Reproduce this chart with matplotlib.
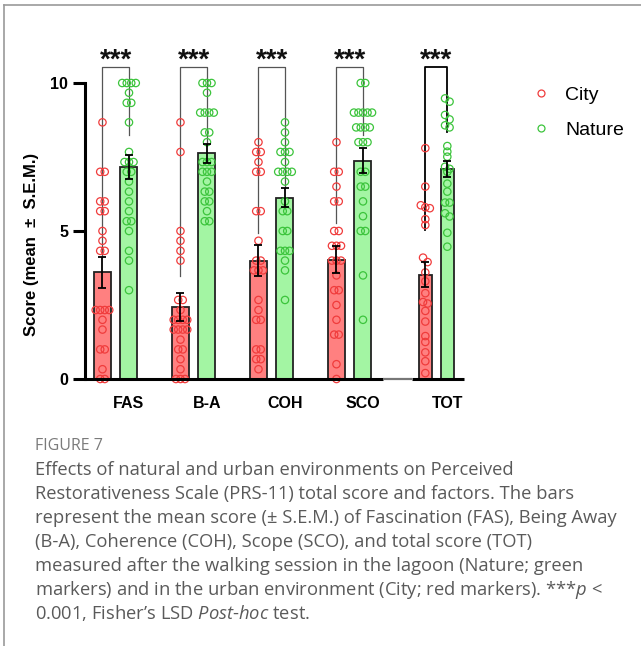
import numpy as np
import matplotlib
matplotlib.use('Agg')
import matplotlib.pyplot as plt
from matplotlib.lines import Line2D

categories = ['FAS', 'B-A', 'COH', 'SCO', 'TOT']
city_mean = [3.60, 2.44, 4.00, 4.03, 3.52]
city_sem = [0.52, 0.48, 0.53, 0.45, 0.42]
nature_mean = [7.15, 7.62, 6.12, 7.37, 7.08]
nature_sem = [0.41, 0.31, 0.32, 0.42, 0.27]

city_points = [
    [8.67, 7.0, 7.0, 6.0, 6.0, 5.67, 5.67, 5.0, 4.67, 4.33, 4.33, 2.33, 2.33, 2.33, 2.33,
     2.0, 1.67, 1.0, 1.0, 0.33, 0.0, 0.0],
    [8.67, 7.67, 5.0, 4.67, 4.33, 4.0, 2.67, 2.67, 2.33, 2.0, 2.0, 2.0, 2.0, 1.67, 1.67,
     1.67, 1.67, 1.33, 1.0, 1.0, 0.67, 0.33, 0.0, 0.0, 0.0],
    [8.0, 7.67, 7.67, 7.33, 7.0, 7.0, 5.67, 5.67, 4.67, 4.0, 4.0, 3.67, 3.67, 3.67, 2.67,
     2.33, 2.0, 2.0, 1.0, 1.0, 0.67, 0.67, 0.33],
    [8.0, 7.0, 7.0, 6.5, 6.0, 6.0, 5.0, 5.0, 4.5, 4.5, 4.5, 4.0, 4.0, 4.0, 3.5, 3.0, 3.0,
     2.5, 2.0, 1.5, 1.5, 0.5, 0.0],
    [7.8, 6.5, 5.87, 5.8, 5.77, 5.4, 5.2, 4.1, 3.95, 3.6, 3.3, 2.9, 2.6, 2.55, 2.3, 1.94,
     1.45, 1.25, 0.9, 0.6, 0.2],
]
nature_points = [
    [10.0, 10.0, 10.0, 10.0, 9.67, 9.33, 9.33, 8.67, 7.67, 7.33, 7.33, 7.33, 7.0, 7.0, 6.67,
     6.33, 6.0, 5.67, 5.33, 5.33, 5.0, 4.33, 4.0, 3.0],
    [10.0, 10.0, 10.0, 9.67, 9.0, 9.0, 9.0, 9.0, 8.33, 8.33, 8.0, 7.33, 7.33, 7.33, 7.0, 7.0,
     7.0, 6.67, 6.33, 6.33, 6.0, 6.0, 5.67, 5.33, 5.33],
    [8.67, 8.33, 8.0, 7.67, 7.67, 7.67, 7.33, 7.0, 7.0, 7.0, 7.0, 6.67, 6.0, 5.67, 5.67, 5.0,
     5.0, 4.33, 4.33, 4.33, 4.0, 3.67, 2.67],
    [10.0, 10.0, 9.0, 9.0, 9.0, 9.0, 9.0, 8.5, 8.5, 8.5, 8.5, 8.0, 8.0, 8.0, 7.0, 7.0, 6.5,
     6.5, 6.0, 5.5, 5.0, 5.0, 3.5, 2.0],
    [9.48, 9.37, 8.92, 8.77, 8.57, 8.5, 7.87, 7.68, 7.51, 7.17, 7.1, 7.0, 6.6, 6.33, 5.96,
     5.96, 5.6, 5.49, 4.94, 4.47],
]

# bracket legs (lower ends) and top
bracket_left = [4.12, 3.48, 4.93, 5.27, 5.03]
bracket_right = [8.24, 7.97, 6.49, 8.24, 8.34]
bracket_top = 10.54
stars = ['***'] * 5

plt.rcParams['font.family'] = ['Liberation Sans', 'DejaVu Sans']
plt.rcParams['mathtext.fontset'] = 'custom'
plt.rcParams['mathtext.rm'] = 'Open Sans'
plt.rcParams['mathtext.it'] = 'Open Sans:italic'

red_fill, red_edge = '#ff8080', '#f03c3c'
green_fill, green_edge = '#a3f5a3', '#3cc43c'


def swarm(vals, center, step=0.058, tol=0.16):
    vals = np.sort(np.asarray(vals, dtype=float))[::-1]
    xs = np.empty(len(vals))
    i = 0
    while i < len(vals):
        j = i
        while j + 1 < len(vals) and vals[i] - vals[j + 1] < tol:
            j += 1
        k = j - i + 1
        xs[i:j + 1] = center + (np.arange(k) - (k - 1) / 2) * step
        i = j + 1
    return xs, vals


W, H = 641, 646
fig = plt.figure(figsize=(W / 100, H / 100), dpi=100)
ax = fig.add_axes([85 / W, 1 - 379 / H, (464 - 85) / W, (379 - 38.6) / H])

group_x = np.array([0, 1, 2, 3, 4.11])
half = np.array([0.17, 0.17, 0.17, 0.17, 0.141])
widths = np.array([0.218, 0.218, 0.218, 0.218, 0.167])
xc = group_x - half
xn = group_x + half

ax.bar(xc, city_mean, widths, color=red_fill, edgecolor='#222222', linewidth=1.3, zorder=2)
ax.bar(xn, nature_mean, widths, color=green_fill, edgecolor='#222222', linewidth=1.3, zorder=2)

for i in range(len(categories)):
    px, py = swarm(city_points[i], xc[i])
    ax.scatter(px, py, s=28, facecolor='none', edgecolor=red_edge, linewidth=0.9, zorder=3, clip_on=False)
    px, py = swarm(nature_points[i], xn[i])
    ax.scatter(px, py, s=28, facecolor='none', edgecolor=green_edge, linewidth=0.9, zorder=3, clip_on=False)

ax.errorbar(xc, city_mean, yerr=city_sem, fmt='none', ecolor='black', elinewidth=1.3,
            capsize=3.2, capthick=1.3, zorder=4)
ax.errorbar(xn, nature_mean, yerr=nature_sem, fmt='none', ecolor='black', elinewidth=1.3,
            capsize=3.2, capthick=1.3, zorder=4)

for i in range(len(categories)):
    last = i == len(categories) - 1
    col = 'black' if last else '#555555'
    lw = 1.3 if last else 0.9
    ax.plot([xc[i], xc[i], xn[i], xn[i]],
            [bracket_left[i], bracket_top, bracket_top, bracket_right[i]],
            color=col, lw=lw, zorder=1.5, clip_on=False)
    ax.text(group_x[i], 10.52, stars[i], ha='center', va='baseline',
            fontsize=20, fontweight='bold', color='#111111')

ax.set_xlim(-0.394, 4.465)
ax.set_ylim(0, 11.5)
ax.set_yticks([0, 5, 10])
ax.set_yticklabels(['0', '5', '10'], fontsize=11.5, fontweight='bold')
ax.set_xticks(xn)
ax.set_xticklabels(categories, fontsize=11.5, fontweight='bold')
ax.tick_params(axis='y', length=9, width=2.2, pad=3)
ax.tick_params(axis='x', length=0, pad=12)
for s in ['top', 'right', 'bottom']:
    ax.spines[s].set_visible(False)
ax.spines['left'].set_linewidth(2.2)
ax.spines['left'].set_bounds(0, 10)

# x axis drawn in pieces (lighter gap before TOT)
ax.plot([-0.394, 3.426], [0, 0], color='black', lw=2.2, zorder=5, clip_on=False, solid_capstyle='butt')
ax.plot([3.426, 3.798], [0, 0], color='#777777', lw=1.6, zorder=5, clip_on=False, solid_capstyle='butt')
ax.plot([3.798, 4.465], [0, 0], color='black', lw=2.2, zorder=5, clip_on=False, solid_capstyle='butt')

fig.text(32 / W, 1 - 244 / H, 'Score (mean  ±  S.E.M.)', rotation=90, ha='center', va='center',
         fontsize=12, fontweight='bold')

handles = [Line2D([], [], marker='o', ls='none', mfc='none', mec=red_edge, ms=5, mew=0.9),
           Line2D([], [], marker='o', ls='none', mfc='none', mec=green_edge, ms=5, mew=0.9)]
fig.legend(handles, ['City', 'Nature'], loc='center left', bbox_to_anchor=(531 / W, 1 - 112.5 / H),
           frameon=False, fontsize=14, handlelength=1.0, handletextpad=0.75, labelspacing=0.9,
           borderpad=0, borderaxespad=0)

# page frame
fig.add_artist(Line2D([4 / W, 4 / W], [0, 1 - 5 / H], transform=fig.transFigure, color='#9a9a9a', lw=1.2))
fig.add_artist(Line2D([4 / W, 1], [1 - 5 / H, 1 - 5 / H], transform=fig.transFigure, color='#9a9a9a', lw=1.2))

cap_font = ['Open Sans', 'DejaVu Sans']
fig.text(35 / W, 1 - 450 / H, 'FIGURE 7', fontsize=11.5, color='#7a7a7a', family=cap_font, va='baseline')
caption = [
    'Effects of natural and urban environments on Perceived',
    'Restorativeness Scale (PRS-11) total score and factors. The bars',
    'represent the mean score (± S.E.M.) of Fascination (FAS), Being Away',
    '(B-A), Coherence (COH), Scope (SCO), and total score (TOT)',
    'measured after the walking session in the lagoon (Nature; green',
    'markers) and in the urban environment (City; red markers). ***$p$ <',
    '0.001, Fisher\u2019s LSD $Post$-$hoc$ test.',
]
for k, line in enumerate(caption):
    fig.text(35 / W, 1 - (475 + 24 * k) / H, line, fontsize=13.2, color='#5a5a5a',
             family=cap_font, va='baseline')

fig.savefig('out.png', dpi=100)
